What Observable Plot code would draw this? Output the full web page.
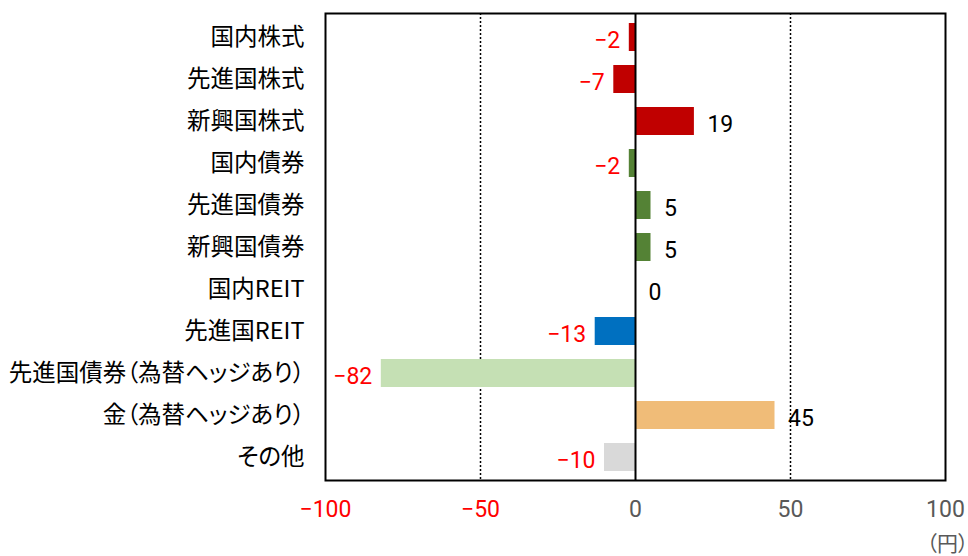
<!DOCTYPE html>
<html>
<head>
<meta charset="utf-8">
<script src="https://cdn.jsdelivr.net/npm/d3@7"></script>
<script src="https://cdn.jsdelivr.net/npm/@observablehq/plot@0.6"></script>
<style>
  html, body { margin: 0; padding: 0; background: #fff; }
  #chart svg { overflow: visible; }
  #chart svg text { font-feature-settings: "palt"; }
</style>
</head>
<body>
<div id="chart"></div>
<script>
const categories = [
  "国内株式", "先進国株式", "新興国株式",
  "国内債券", "先進国債券", "新興国債券",
  "国内REIT", "先進国REIT",
  "先進国債券（為替ヘッジあり）", "金（為替ヘッジあり）", "その他"
];
const values = [-2, -7, 19, -2, 5, 5, 0, -13, -82, 45, -10];
const colors = [
  "#C00000", "#C00000", "#C00000",
  "#548235", "#548235", "#548235",
  "#0070C0", "#0070C0",
  "#C5E0B4", "#F0BC78", "#D9D9D9"
];
const xTicks = [-100, -50, 0, 50, 100];
const gridLines = [-50, 50];
const zeroLine = [0];
const unitLabel = ["（円）"];

const data = categories.map((c, i) => ({category: c, value: values[i], color: colors[i]}));
const fmt = v => (v < 0 ? "\u2212" + Math.abs(v) : String(v));

const numFont = "Roboto, 'Liberation Sans', sans-serif";

const chart = Plot.plot({
  width: 968,
  height: 556,
  marginTop: 13,
  marginBottom: 76,
  marginLeft: 325,
  marginRight: 23,
  style: {fontFamily: "'Noto Sans CJK JP', sans-serif", fontSize: "23px", color: "#000", background: "#fff"},
  x: {domain: [-100, 100], label: null},
  y: {domain: categories, paddingInner: 0.34, paddingOuter: 0.17, label: null},
  marks: [
    Plot.ruleX(gridLines, {stroke: "#000", strokeWidth: 1.5, strokeDasharray: "2,2"}),
    Plot.barX(data, {x: "value", y: "category", fill: "color"}),
    Plot.ruleX(zeroLine, {stroke: "#000", strokeWidth: 2}),
    Plot.text(data.filter(d => d.value < 0), {
      x: "value", y: "category", text: d => fmt(d.value),
      textAnchor: "end", dx: -9, dy: 3, fill: "#FF0000",
      fontFamily: numFont, fontSize: 23
    }),
    Plot.text(data.filter(d => d.value >= 0), {
      x: "value", y: "category", text: d => fmt(d.value),
      textAnchor: "start", dx: 13, dy: 3, fill: "#000",
      fontFamily: numFont, fontSize: 23
    }),
    Plot.frame({stroke: "#000", strokeWidth: 2}),
    Plot.axisX({
      ticks: xTicks, tickSize: 0, tickPadding: 20, label: null,
      tickFormat: fmt, fontFamily: numFont, fontSize: 23,
      fill: d => (d < 0 ? "#FF0000" : "#595959")
    }),
    Plot.axisY({tickSize: 0, tickPadding: 21, label: null, fontSize: 23.5, fill: "#000"}),
    Plot.text(unitLabel, {
      frameAnchor: "bottom-right", textAnchor: "start", lineAnchor: "middle",
      dx: -19, dy: 64, fill: "#595959", fontSize: 21
    })
  ]
});
document.getElementById("chart").append(chart);
</script>
</body>
</html>
